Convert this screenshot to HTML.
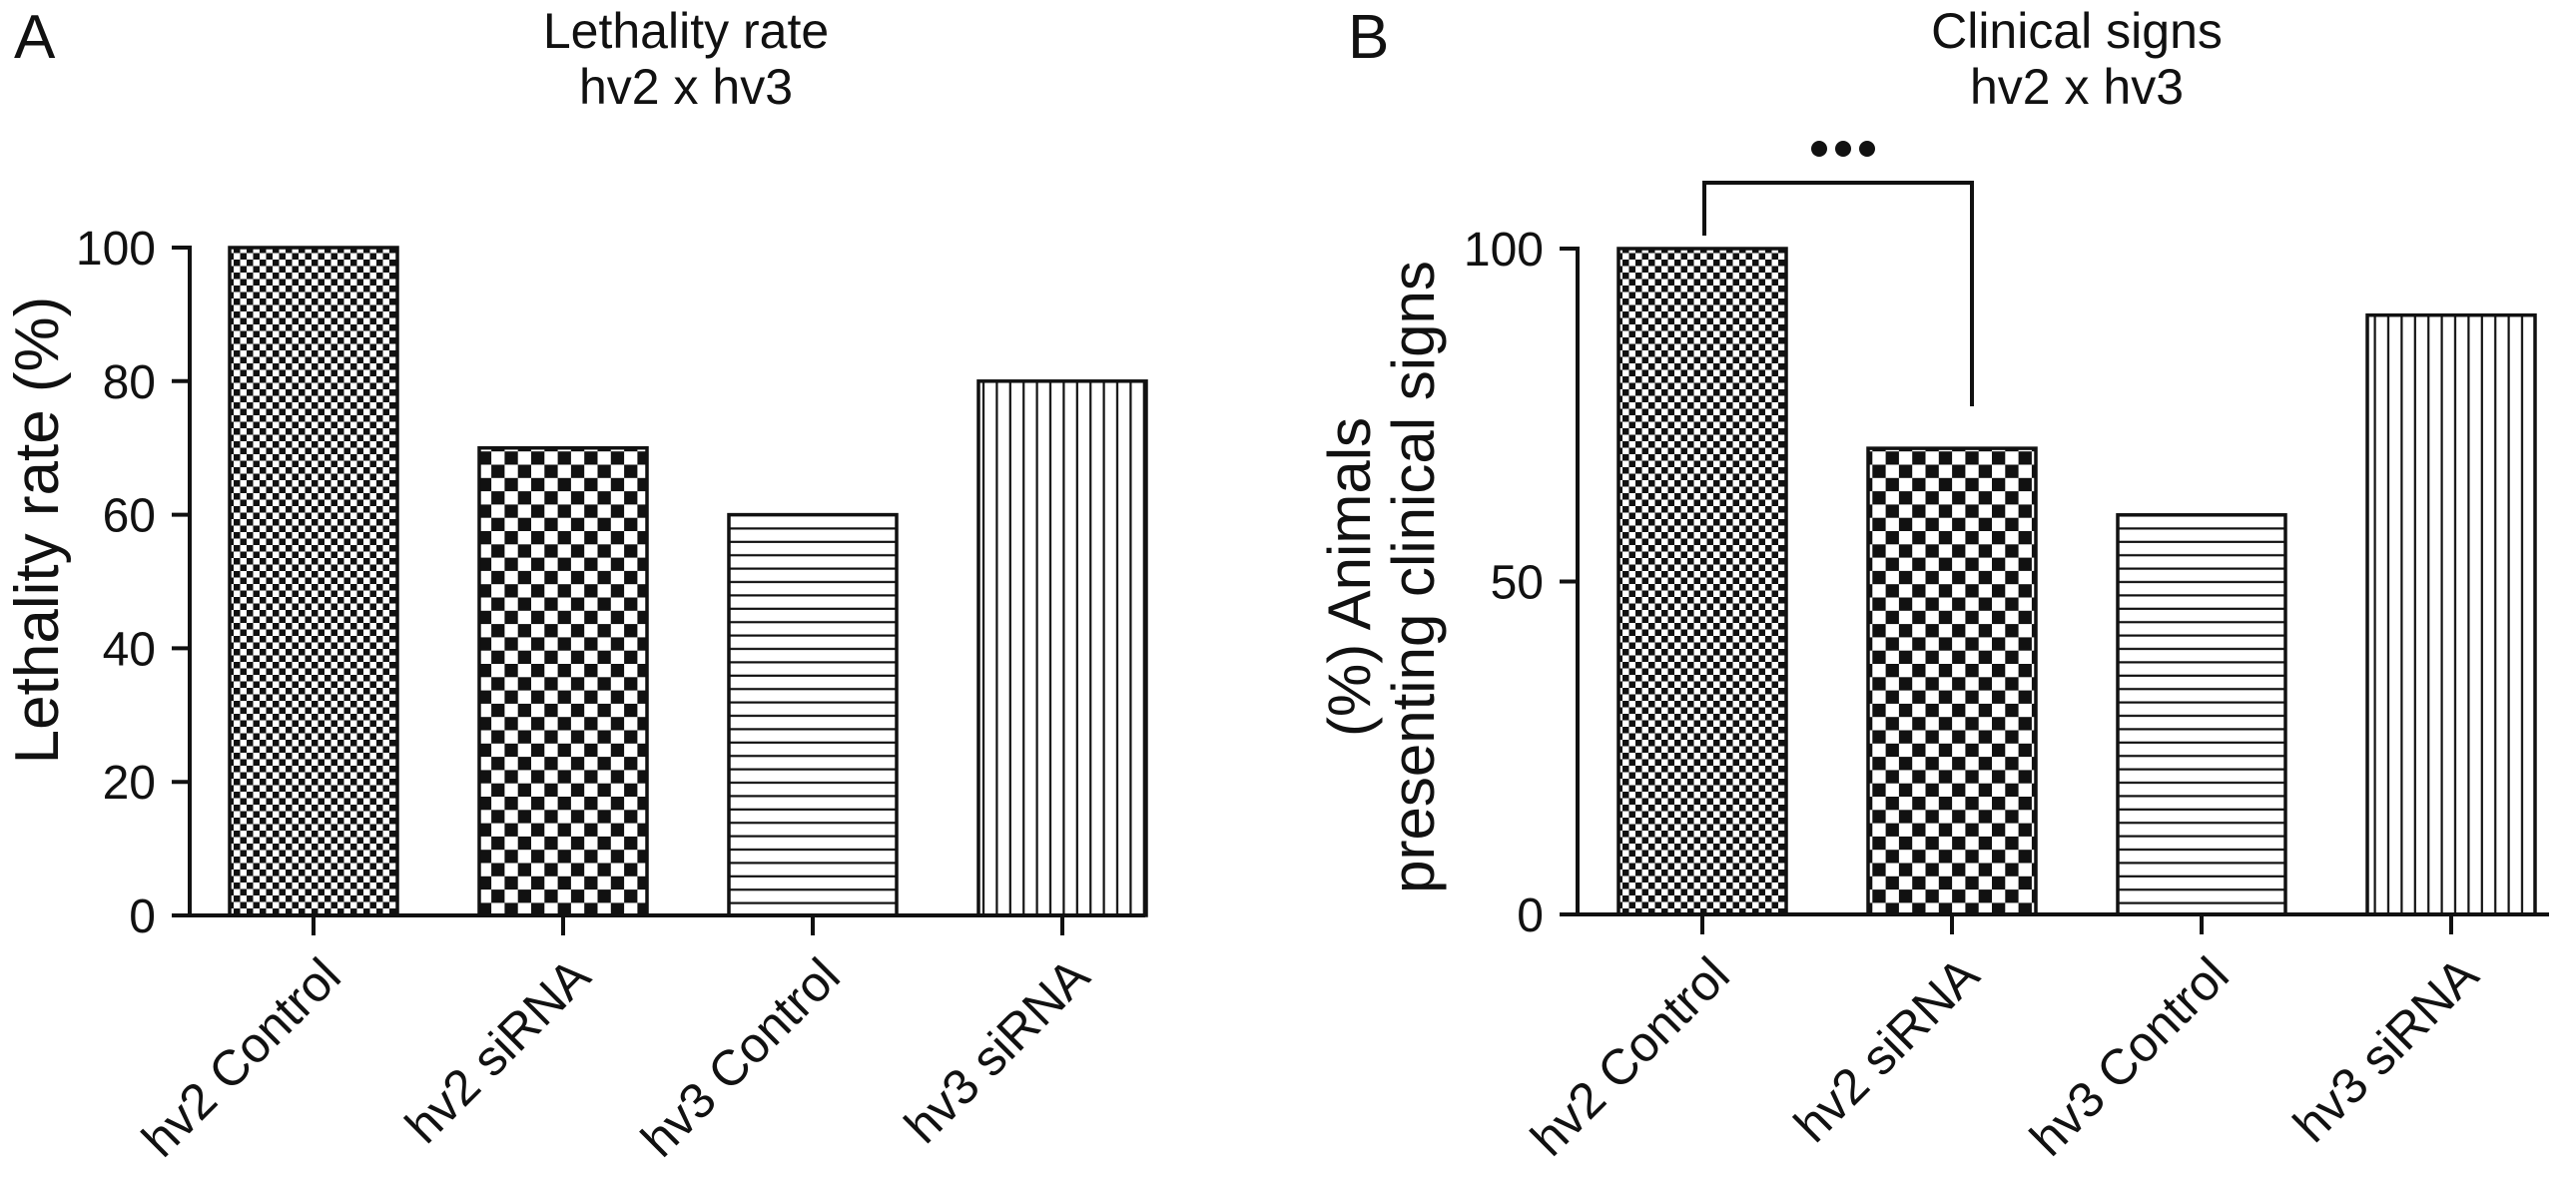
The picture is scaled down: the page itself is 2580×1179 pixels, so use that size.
<!DOCTYPE html>
<html><head><meta charset="utf-8"><style>
html,body{margin:0;padding:0;background:#fff;}
svg{display:block;font-family:"Liberation Sans",Arial,sans-serif;}
</style></head><body>
<svg id="fig" width="2580" height="1179" viewBox="0 0 2580 1179" xmlns="http://www.w3.org/2000/svg">
<defs>
<pattern id="pFine" patternUnits="userSpaceOnUse" width="13" height="13"><rect width="13" height="13" fill="#fff"/><rect width="6.5" height="6.5" fill="#111"/><rect x="6.5" y="6.5" width="6.5" height="6.5" fill="#111"/></pattern>
<pattern id="pCoarse" patternUnits="userSpaceOnUse" width="26.6" height="26.6"><rect width="26.6" height="26.6" fill="#fff"/><rect width="13.3" height="13.3" fill="#111"/><rect x="13.3" y="13.3" width="13.3" height="13.3" fill="#111"/></pattern>
<pattern id="pHoriz" patternUnits="userSpaceOnUse" width="20" height="13.4"><rect width="20" height="13.4" fill="#fff"/><rect y="5.7" width="20" height="2.2" fill="#111"/></pattern>
<pattern id="pVert" patternUnits="userSpaceOnUse" width="13.4" height="20"><rect width="13.4" height="20" fill="#fff"/><rect x="5.7" width="2.2" height="20" fill="#111"/></pattern>
</defs>
<g id="panelA"></g>
<g id="panelB"></g>
</svg>
<script>
const categories = ["hv2 Control","hv2 siRNA","hv3 Control","hv3 siRNA"];
const lethalityValues = [100, 70, 60, 80];
const clinicalValues = [100, 70, 60, 90];
const lethalityTicks = [0, 20, 40, 60, 80, 100];
const clinicalTicks = [0, 50, 100];
const patterns = ["pFine","pCoarse","pHoriz","pVert"];

const NS = "http://www.w3.org/2000/svg";
function mk(parent, tag, attrs, text){
  const e = document.createElementNS(NS, tag);
  for (const k in attrs) e.setAttribute(k, attrs[k]);
  if (text !== undefined) e.textContent = text;
  parent.appendChild(e);
  return e;
}

function drawPanel(g, cfg){
  const x0 = cfg.axisX, yBase = cfg.y0, yTop = cfg.y100;
  const yScale = v => yBase - (v / cfg.max) * (yBase - yTop);
  const xCenter = i => cfg.firstCenter + i * 250;
  const L = mk(g, "text", {x: cfg.letterX, y: 58, "font-size": 62, fill: "#111"}, cfg.letter);
  
  
  const t1 = mk(g, "text", {x: cfg.titleX, y: 48, "font-size": 50, "text-anchor": "middle", fill: "#111"}, cfg.title1);
  
  
  const t2 = mk(g, "text", {x: cfg.titleX, y: 104, "font-size": 50, "text-anchor": "middle", fill: "#111"}, "hv2 x hv3");
  
  
  cfg.values.forEach((v, i) => {
    const c = xCenter(i);
    const r = mk(g, "rect", {x: c - 84, y: yScale(v), width: 168, height: yBase - yScale(v), fill: "url(#" + patterns[i] + ")", stroke: "#111", "stroke-width": 3.5});
    
    
  });
  const ya = mk(g, "line", {x1: x0, y1: yTop - 2, x2: x0, y2: yBase, stroke: "#111", "stroke-width": 4});
  
  
  cfg.ticks.forEach(t => {
    const y = yScale(t);
    const tk = mk(g, "line", {x1: x0 - 18, y1: y, x2: x0, y2: y, stroke: "#111", "stroke-width": 4});
    
    
    const tl = mk(g, "text", {x: x0 - 34, y: y + 17, "font-size": 48, "text-anchor": "end", fill: "#111"}, String(t));
    
    
  });
  const xa = mk(g, "line", {x1: x0 - 18, y1: yBase, x2: cfg.axisEnd, y2: yBase, stroke: "#111", "stroke-width": 4});
  
  
  categories.forEach((c, i) => {
    const x = xCenter(i);
    const tk = mk(g, "line", {x1: x, y1: yBase, x2: x, y2: yBase + 20, stroke: "#111", "stroke-width": 4});
    
    
    const lx = x + 30, ly = yBase + 64;
    const tl = mk(g, "text", {x: lx, y: ly, "font-size": 50, "text-anchor": "end", fill: "#111", transform: "rotate(-45 " + lx + " " + ly + ")"}, c);
    
    
  });
  const yc = cfg.yTitleY;
  cfg.yTitle.forEach((line, j) => {
    const tx = cfg.yTitleX + j * cfg.yTitleGap;
    const yt = mk(g, "text", {x: tx, y: yc, "font-size": cfg.yTitleSize, "text-anchor": "middle", fill: "#111", transform: "rotate(-90 " + tx + " " + yc + ")"}, line);
    
    
  });
  return {yScale, xCenter};
}

drawPanel(document.getElementById("panelA"), {
  letter: "A", letterX: 14, title1: "Lethality rate", titleX: 687,
  axisX: 190, y0: 917, y100: 248, max: 100, firstCenter: 314, axisEnd: 1147,
  values: lethalityValues, ticks: lethalityTicks, yTitle: ["Lethality rate (%)"], yTitleX: 58, yTitleY: 531, yTitleSize: 62, yTitleGap: 0
});
const B = drawPanel(document.getElementById("panelB"), {
  letter: "B", letterX: 1350, title1: "Clinical signs", titleX: 2080,
  axisX: 1580, y0: 916, y100: 249, max: 100, firstCenter: 1705, axisEnd: 2553,
  values: clinicalValues, ticks: clinicalTicks, yTitle: ["(%) Animals", "presenting clinical signs"], yTitleX: 1372, yTitleY: 578, yTitleSize: 60, yTitleGap: 64
});
const gB = document.getElementById("panelB");
const bx1 = B.xCenter(0) + 2, bx2 = B.xCenter(1) + 20;
const br = mk(gB, "polyline", {points: bx1 + ",236 " + bx1 + ",183 " + bx2 + ",183 " + bx2 + ",407", fill: "none", stroke: "#111", "stroke-width": 4});


const dots = mk(gB, "g", {});


[1822, 1846, 1870].forEach(x => mk(dots, "circle", {cx: x, cy: 149, r: 8, fill: "#111"}));
</script>
</body></html>
